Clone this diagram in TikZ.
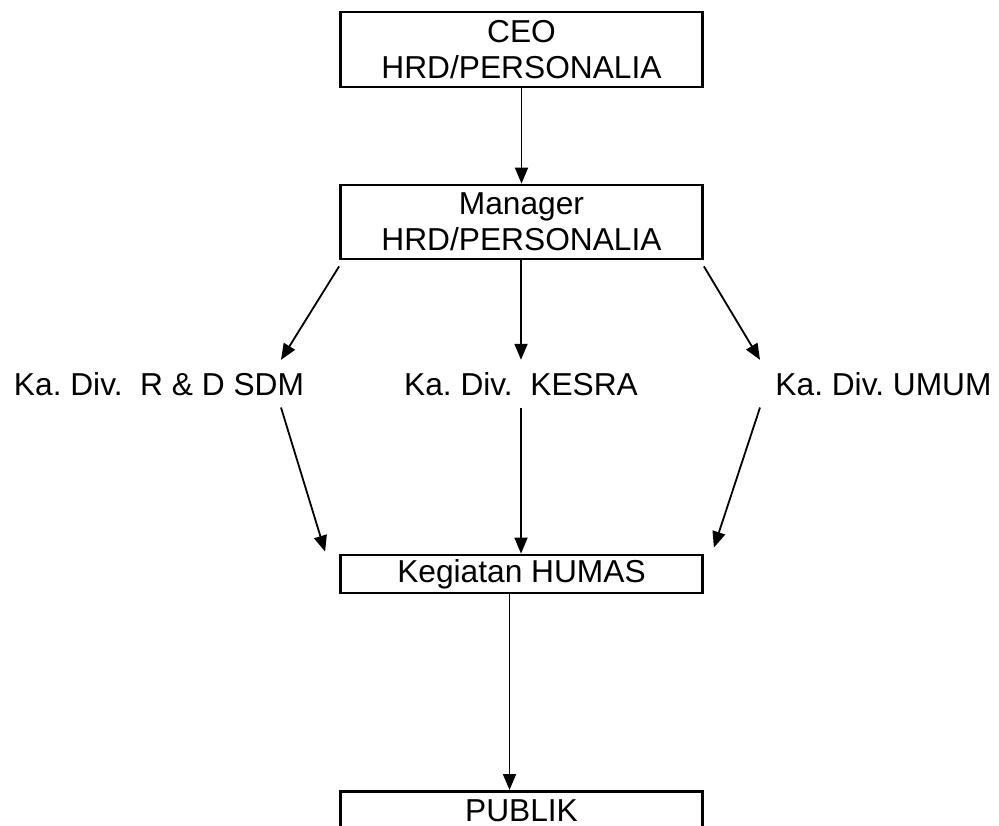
\documentclass[tikz,border=0pt]{standalone}
\usepackage{fontspec}
\setmainfont{Liberation Sans}
\frenchspacing
\usetikzlibrary{arrows.meta}

\begin{document}
\begin{tikzpicture}[x=1pt,y=-1pt,
  orgbox/.style={draw, line width=2.8pt, minimum width=362pt, align=center,
    inner sep=0pt, font=\fontsize{31.7}{36}\selectfont},
  divlabel/.style={inner sep=12pt, anchor=base, font=\fontsize{31.7}{36}\selectfont},
  arr/.style={-{Triangle[length=16pt,width=13pt]}, line width=1.8pt}]

  % Canvas
  \clip (0,0) rectangle (999,825);

  % Boxes
  \node[orgbox, minimum height=75pt] (ceo) at (521.5,49.5) {CEO\\HRD/PERSONALIA};
  \node[orgbox, minimum height=74pt] (mgr) at (521.5,222) {Manager\\HRD/PERSONALIA};
  \node[orgbox, minimum height=38pt] (humas) at (521.5,574) {Kegiatan HUMAS};
  \node[orgbox, anchor=north, inner ysep=7pt, text height=23pt, text depth=10pt]
    (publik) at (521.5,790) {PUBLIK};

  % Division heads
  \node[divlabel] (rdsdm) at (159,395) {Ka. Div.\ \ R \& D SDM};
  \node[divlabel] (kesra) at (521,395) {Ka. Div.\ \ KESRA};
  \node[divlabel] (umum) at (883.5,395) {Ka. Div. UMUM};

  % Manager to division heads
  \draw[arr] (ceo) -- (mgr);
  \draw[arr] ([yshift=-6pt]mgr.south west) -- ([xshift=122pt]rdsdm.north);
  \draw[arr] (mgr.south -| kesra) -- (kesra.north);
  \draw[arr] ([yshift=-6pt]mgr.south east) -- ([xshift=-123.5pt]umum.north);

  % Division heads to HUMAS
  \draw[arr] ([xshift=122pt]rdsdm.south) -- ([xshift=-14pt,yshift=2pt]humas.north west);
  \draw[arr] (kesra.south) -- (kesra.south |- humas.north);
  \draw[arr] ([xshift=-123.5pt]umum.south) -- ([xshift=10pt,yshift=6pt]humas.north east);

  % HUMAS to public
  \draw[arr] ([xshift=-12pt]humas.south) -- ([xshift=-12pt]publik.north);

\end{tikzpicture}
\end{document}
